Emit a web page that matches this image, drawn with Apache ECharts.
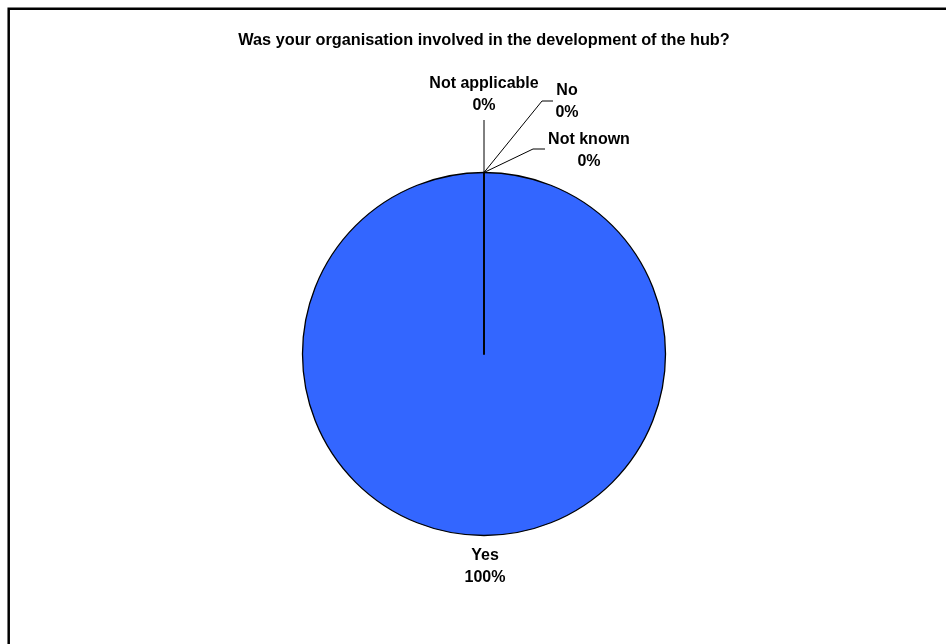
<!DOCTYPE html>
<html>
<head>
<meta charset="utf-8">
<script src="https://cdn.jsdelivr.net/npm/echarts@6/dist/echarts.min.js"></script>
<style>
html,body{margin:0;padding:0;background:#fff;}
#chart{width:946px;height:644px;}
</style>
</head>
<body>
<div id="chart"></div>
<script>
const titleText = 'Was your organisation involved in the development of the hub?';
const categories = ['Yes', 'Not applicable', 'No', 'Not known'];
const values = [100, 0, 0, 0];

const FONT = '"Liberation Sans", Arial, sans-serif';
const cx = 484, cy = 354, R = 181.5;
const topX = cx, topY = cy - R;

// label placement (layout only)
const labelPlaces = {
  'Yes':            { x: 485, y: 545, line: null },
  'Not applicable': { x: 484, y: 73,  line: [[topX, topY], [484, 120]] },
  'No':             { x: 567, y: 80,  line: [[topX, topY], [542, 101], [553, 101]] },
  'Not known':      { x: 589, y: 129, line: [[topX, topY], [533, 149], [545, 149]] }
};

const chart = echarts.init(document.getElementById('chart'), null, { renderer: 'canvas' });

const data = categories.map((c, i) => ({
  name: c,
  value: values[i],
  labelLine: { show: labelPlaces[c].line !== null }
}));

chart.setOption({
  animation: false,
  backgroundColor: '#ffffff',
  title: {
    text: titleText,
    left: 484,
    textAlign: 'center',
    top: 33,
    padding: 0,
    textStyle: { fontFamily: FONT, fontSize: 16.3, fontWeight: 'bold', color: '#000' }
  },
  graphic: [{
    type: 'rect',
    shape: { x: 8.7, y: 8.7, width: 1200, height: 1200 },
    style: { fill: 'none', stroke: '#000', lineWidth: 2.5 },
    silent: true
  }],
  series: [{
    type: 'pie',
    center: [cx, cy],
    radius: R,
    startAngle: 90,
    clockwise: true,
    minAngle: 0,
    avoidLabelOverlap: false,
    emphasis: { disabled: true },
    itemStyle: { color: '#3366FF', borderColor: '#000', borderWidth: 1.3 },
    label: {
      show: true,
      position: 'outside',
      formatter: '{b}\n{d}%',
      fontFamily: FONT,
      fontSize: 16,
      fontWeight: 'bold',
      color: '#000',
      lineHeight: 22,
      align: 'center'
    },
    labelLine: {
      show: true,
      lineStyle: { color: '#000', width: 1 }
    },
    labelLayout: function (params) {
      const p = labelPlaces[categories[params.dataIndex]];
      const res = { x: p.x, y: p.y, align: 'center', verticalAlign: 'top' };
      if (p.line) res.labelLinePoints = p.line;
      return res;
    },
    data: data
  }]
});
</script>
</body>
</html>
